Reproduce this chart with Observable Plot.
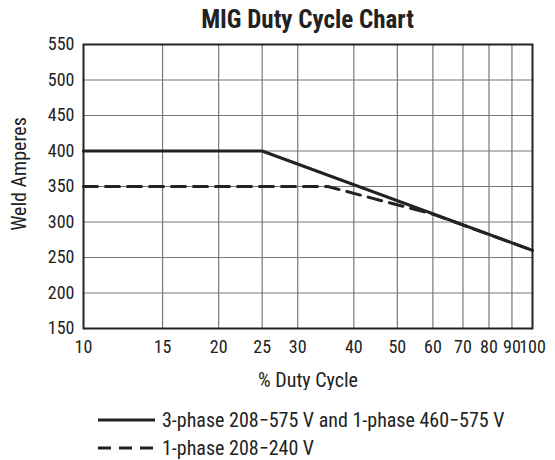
<!DOCTYPE html>
<html>
<head>
<meta charset="utf-8">
<script src="https://cdn.jsdelivr.net/npm/d3@7"></script>
<script src="https://cdn.jsdelivr.net/npm/@observablehq/plot@0.6"></script>
<style>
  body { margin: 0; background: #fff; font-family: "Roboto Condensed", "DejaVu Sans Condensed", sans-serif; color: #222; }
  #page { position: relative; width: 555px; height: 460px; }
  #chart { position: absolute; left: 0; top: 25px; }
  #title { position: absolute; left: 0; top: 0; width: 555px; height: 38px; box-sizing: border-box; padding-left: 60px; text-align: center; font-weight: bold; font-size: 25px; line-height: 40px; color: #222; }
  #ylabel { position: absolute; left: 19px; top: 174px; transform: translate(-50%, -50%) rotate(-90deg); white-space: nowrap; font-size: 20px; color: #222; }
  .item { position: absolute; left: 98px; display: flex; align-items: center; font-size: 20px; color: #222; white-space: nowrap; }
  .item svg { margin-right: 4px; }
</style>
</head>
<body>
<div id="page">
<div id="chart"></div>
<div id="title">MIG Duty Cycle Chart</div>
<div id="ylabel">Weld Amperes</div>
</div>
<script>
const xTicks = [10, 15, 20, 25, 30, 40, 50, 60, 70, 80, 90, 100];
const yTicks = [150, 200, 250, 300, 350, 400, 450, 500, 550];
const seriesNames = ["3-phase 208\u2212575 V and 1-phase 460\u2212575 V", "1-phase 208\u2212240 V"];
const solidDuty = [10, 25, 100];
const solidAmps = [400, 400, 260];
const dashedDuty = [10, 35, 60, 100];
const dashedAmps = [350, 350, 311, 260];

const solid = solidDuty.map((d, i) => ({duty: d, amps: solidAmps[i]}));
const dashed = dashedDuty.map((d, i) => ({duty: d, amps: dashedAmps[i]}));

const font = '"Roboto Condensed", "DejaVu Sans Condensed", sans-serif';

const plot = Plot.plot({
  width: 555,
  height: 365,
  marginLeft: 83,
  marginRight: 23,
  marginTop: 19,
  marginBottom: 62,
  style: {fontFamily: font, fontSize: "18px", color: "#222", background: "transparent"},
  x: {type: "log", domain: [10, 100], ticks: xTicks, tickFormat: d => String(d), label: null},
  y: {domain: [150, 550], ticks: yTicks, label: null},
  marks: [
    Plot.ruleX(xTicks.slice(1, -1), {stroke: "#777", strokeWidth: 1.2}),
    Plot.ruleY(yTicks.slice(1, -1), {stroke: "#777", strokeWidth: 1.2}),
    Plot.axisX({ticks: xTicks, tickFormat: d => String(d), tickSize: 0, tickPadding: 12, label: null, fontSize: 18}),
    Plot.axisY({ticks: yTicks, tickSize: 0, tickPadding: 9, label: null, fontSize: 18}),
    Plot.frame({stroke: "#222", strokeWidth: 2}),
    Plot.line(dashed, {x: "duty", y: "amps", stroke: "#222", strokeWidth: 3, strokeDasharray: "14,8"}),
    Plot.line(solid, {x: "duty", y: "amps", stroke: "#222", strokeWidth: 3}),
    Plot.text(["% Duty Cycle"], {frameAnchor: "bottom", dy: 58, fontSize: 20, fill: "#222"})
  ]
});
document.getElementById("chart").appendChild(plot);

const page = document.getElementById("page");
const centers = [420, 448];
seriesNames.forEach((name, i) => {
  const item = document.createElement("div");
  item.className = "item";
  item.style.top = (centers[i] - 12) + "px";
  item.style.height = "24px";
  const dash = i === 1 ? 'stroke-dasharray="13,8"' : "";
  item.innerHTML = `<svg width="60" height="6"><line x1="0" y1="3" x2="57" y2="3" stroke="#222" stroke-width="3" ${dash}/></svg><span>${name}</span>`;
  page.appendChild(item);
});
</script>
</body>
</html>
